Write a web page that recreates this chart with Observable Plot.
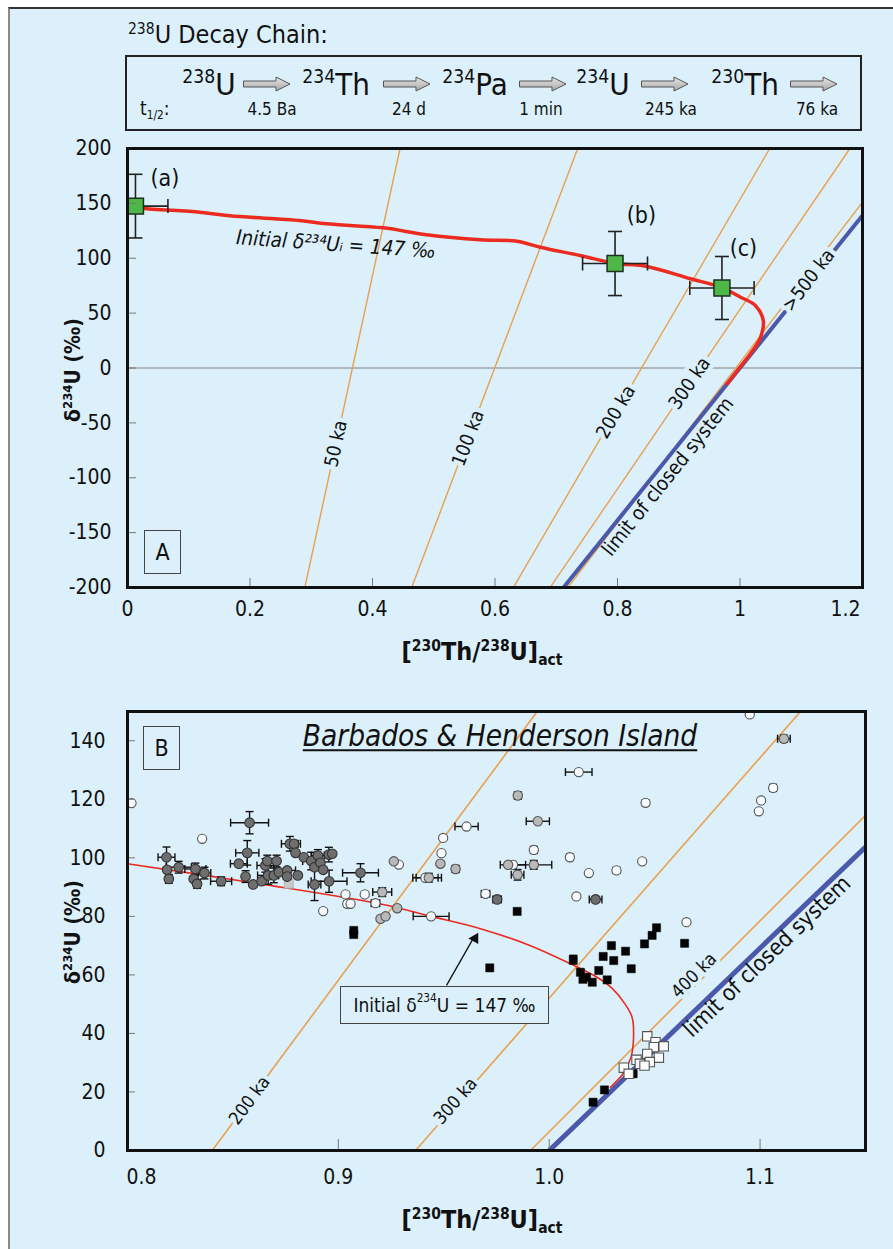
<!DOCTYPE html>
<html><head><meta charset="utf-8">
<script src="https://cdn.jsdelivr.net/npm/d3@7"></script>
<script src="https://cdn.jsdelivr.net/npm/@observablehq/plot@0.6"></script>
<style>
html,body{margin:0;padding:0;background:#fff;}
#root{position:relative;width:893px;height:1249px;overflow:hidden;background:#fff;font-family:"DejaVu Sans Condensed","DejaVu Sans","Liberation Sans",sans-serif;font-stretch:condensed;color:#111;}
#panel{position:absolute;left:8px;top:7px;width:900px;height:1260px;background:#dbf0fa;border-top:2px solid #333;border-left:2px solid #8a8a8a;}
.abs{position:absolute;white-space:nowrap;line-height:1;}
.sup{font-size:0.62em;position:relative;top:-0.6em;}
.sub{font-size:0.62em;position:relative;top:0.32em;}
.box{position:absolute;border:1.5px solid #444;box-sizing:border-box;background:#dbf0fa;display:flex;align-items:center;justify-content:center;}
svg{position:absolute;left:0;}
</style></head><body><div id="root"><div id="panel"></div></div>
<script>
// ---------------- DATA ----------------
// Decay chain
const chainMass = ["238", "234", "234", "234", "230"];
const chainElem = ["U", "Th", "Pa", "U", "Th"];
const chainHalfLife = ["4.5 Ba", "24 d", "1 min", "245 ka", "76 ka"];

// Panel A
const xTicksA = [0, 0.2, 0.4, 0.6, 0.8, 1, 1.2];
const yTicksA = [-200, -150, -100, -50, 0, 50, 100, 150, 200];
const curveAX = [0.013, 0.025, 0.118, 0.167, 0.281, 0.325, 0.4175, 0.488, 0.576, 0.636, 0.674, 0.739, 0.794, 0.848, 0.919, 0.968, 1.001, 1.025, 1.038, 1.0335, 1.017, 1.0, 0.979];
const curveAY = [147, 145.6, 142, 138.7, 134.4, 131.4, 127.7, 121.4, 116.8, 115.5, 110, 102.5, 95.5, 92.5, 81.3, 73.6, 64.5, 57, 43.3, 28, 13, 0.7, -14.4];
const sampleName = ["(a)", "(b)", "(c)"];
const sampleX = [0.013, 0.796, 0.9705];
const sampleY = [147.5, 95.2, 72.9];
const sampleXerr = [0.053, 0.053, 0.0525];
const sampleYerr = [29, 29.2, 28.7];
const sampleLabelX = [0.061, 0.839, 1.0056];
const sampleLabelY = [172.6, 139, 108.6];
const isoAAge = ["50 ka", "100 ka", "200 ka", "300 ka", ">500 ka"];
const isoAX1 = [0.2895, 0.464, 0.630, 0.690, 0.719];
const isoAY1 = [-200, -200, -200, -200, -200];
const isoAX2 = [0.445, 0.735, 1.0486, 1.1795, 1.2];
const isoAY2 = [200, 200, 200, 200, 151];
const isoALabelX = [0.3404, 0.5561, 0.7974, 0.9176, 1.112];
const isoALabelY = [-69, -64, -40, -14, 80];
const limitAX = [0.712, 1.2];
const limitAY = [-200, 139];

// Panel B
const xTicksB = [0.8, 0.9, 1.0, 1.1];
const yTicksB = [0, 20, 40, 60, 80, 100, 120, 140];
const curveBX = [0.8, 0.863, 0.92, 0.944, 0.9674, 0.9911, 1.0101, 1.0227, 1.030, 1.036, 1.0393, 1.0400, 1.0388, 1.035, 1.029];
const curveBY = [98.0, 91.1, 84.2, 80.0, 75.8, 70, 63.8, 59.2, 55.3, 50.0, 45.5, 38.7, 31.9, 26.2, 21.6];
const isoBAge = ["200 ka", "300 ka", "400 ka"];
const isoBX1 = [0.8402, 0.9366, 0.9911];
const isoBY1 = [0, 0, 0];
const isoBX2 = [0.9943, 1.1192, 1.15];
const isoBY2 = [150, 150, 114.5];
const isoBLabelX = [0.8579, 0.9556, 1.0686];
const isoBLabelY = [17.1, 16.9, 59.8];
const limitBX = [1.0, 1.15];
const limitBY = [0, 103.7];
const noteArrowFrom = [0.9513, 56.4];
const noteArrowTo = [0.9648, 73.5];

// [x, y, xerr, yerr]
const darkGray = [
  [0.8185,100.2,0.004,3.5],[0.8188,95.9,0,0],[0.8196,92.8,0,1.5],[0.8243,96.8,0.006,2],
  [0.8322,96.2,0.005,2],[0.8314,92.8,0,0],[0.8330,91.1,0,1.5],[0.8365,94.8,0.003,2],
  [0.8444,92.0,0.005,1.5],[0.8528,98.0,0.004,0],[0.8560,93.6,0,2],[0.8579,112.0,0.009,3.8],
  [0.8568,101.7,0.0055,4.2],[0.8596,90.9,0,0],[0.8636,92.0,0,0],[0.8654,97.4,0.004,2.3],
  [0.8667,94.0,0.005,3],[0.8663,98.9,0,2],[0.8707,98.9,0,2],[0.8694,94.0,0,2.5],
  [0.8718,95.1,0,0],[0.8757,95.7,0.004,0],[0.8757,93.6,0,0],[0.8770,104.8,0.004,2.5],
  [0.8790,104.8,0.003,0],[0.8797,101.7,0,0],[0.8808,94.0,0,0],[0.8836,100.2,0,0],
  [0.8871,98.9,0.004,3],[0.8887,96.8,0,0],[0.8903,100.8,0.003,2],[0.8915,98.3,0,0],
  [0.8928,95.9,0,0],[0.8955,101.1,0,2.5],[0.8971,101.4,0,0],[0.8887,90.9,0.003,5.5],
  [0.8956,92.0,0.0085,3.8],[0.9105,94.9,0.0085,3.1],[0.9753,85.8,0.002,1],[1.0220,85.8,0.003,0]
];
const lightGray = [
  [0.9279,82.8,0,0],[0.9200,79.2,0,0],[0.9224,80.0,0,0],[0.9208,88.3,0.0045,1.5],
  [0.9429,93.2,0.006,1.5],[0.9484,98.0,0,0],[0.9263,98.8,0,0],[0.9556,96.2,0.0015,1.2],
  [0.9805,97.6,0,0],[0.9927,97.6,0.0085,1.5],[0.9850,94.2,0.003,1.8],[0.9946,112.5,0.0055,0],
  [0.9851,121.3,0.0015,1.2],[1.1113,140.7,0.003,1.2]
];
const whiteCircle = [
  [0.8019,118.7,0,0],[0.8354,106.5,0,0],[0.8928,81.8,0,0],[0.9034,87.5,0,0],
  [0.9042,84.3,0,1],[0.9058,84.3,0,0],[0.9125,87.5,0,0],[0.9176,84.5,0.002,0],
  [0.9287,97.7,0,0],[0.9413,93.2,0.006,0],[0.9440,80.0,0.0085,0],[0.9489,101.6,0,0],
  [0.9497,106.8,0,0],[0.9608,110.7,0.0055,0],[0.9698,87.7,0.002,0],[0.9828,97.6,0.006,0],
  [0.9927,102.7,0,1.2],[1.0098,100.2,0,1],[1.0140,129.3,0.0063,0],[1.0188,94.8,0,0],
  [1.0319,95.7,0,1],[1.0441,98.8,0,0],[1.0457,118.8,0,1],[1.0129,86.8,0,0],
  [1.0651,78.0,0,0],[1.0951,149,0,0],[1.1005,119.6,0,0],[1.0994,115.9,0,0],[1.1062,123.9,0,1.2]
];
const blackSquare = [
  [0.9073,73.8,0,0],[0.9073,75.2,0,0],[0.9848,81.7,0,0],[0.9718,62.4,0,0],[1.0114,65.2,0,1.5],
  [1.0148,60.9,0,0],[1.0177,59.2,0,0],[1.0204,57.5,0,0],[1.0235,61.5,0,0],[1.0275,58.3,0,0],
  [1.0256,66.3,0,0],[1.0306,64.9,0,0],[1.0295,70.0,0,0],[1.0362,68.1,0,0],[1.0389,62.1,0,0],
  [1.0452,70.6,0,0],[1.0488,73.5,0,0],[1.0509,76.1,0,0],[1.0642,70.8,0,0],[1.0160,58.5,0,0],
  [1.0208,16.5,0,0],[1.0262,20.7,0,0],[1.0398,26.2,0,0]
];
const whiteSquare = [
  [1.0465,39.0,0,0],[1.0504,37.0,0,0],[1.0543,35.6,0,0],[1.0496,35.3,0,0],[1.0465,33.0,0,0],
  [1.0520,31.7,0,0],[1.0477,30.2,0,0],[1.0414,31.0,0,0],[1.0430,29.6,0,0],[1.0354,28.3,0,0],
  [1.0377,26.2,0,0],[1.0452,29.0,0,0]
];
const lightSquare = [[0.8765,91.1,0,0]];

// ---------------- STYLE ----------------
const BG = "#dbf0fa", ORANGE = "#e9a04f", BLUE = "#4b59aa", RED = "#ec2b20";
const FONT = '"DejaVu Sans Condensed","DejaVu Sans","Liberation Sans",sans-serif';
const root = document.getElementById("root");

function addHTML(html, css) {
  const d = document.createElement("div");
  d.className = "abs";
  d.innerHTML = html;
  Object.assign(d.style, css);
  root.appendChild(d);
  return d;
}

// ---------------- HEADER (decay chain) ----------------
addHTML('<span class="sup">238</span>U Decay Chain:', {left: "128px", top: "22px", fontSize: "25px"});
const chainBox = document.createElement("div");
Object.assign(chainBox.style, {position: "absolute", left: "125px", top: "55px", width: "737px", height: "76px", border: "2px solid #222", boxSizing: "border-box"});
root.appendChild(chainBox);
const nucCenter = [209, 336, 475, 603, 745];
const arrowLeft = [243, 383, 519, 641, 790];
const hlCenter = [272, 409, 541, 671, 817];
chainElem.forEach((el, i) => {
  addHTML(`<span class="sup">${chainMass[i]}</span>${el}`, {left: nucCenter[i] + "px", top: "69px", fontSize: "31px", transform: "translateX(-50%)"});
  const a = document.createElementNS("http://www.w3.org/2000/svg", "svg");
  a.setAttribute("width", 48); a.setAttribute("height", 16);
  a.style.left = arrowLeft[i] + "px"; a.style.top = "76px";
  a.innerHTML = '<defs><linearGradient id="g' + i + '" x1="0" y1="0" x2="0" y2="1"><stop offset="0" stop-color="#e6e6e6"/><stop offset="1" stop-color="#a8a8a8"/></linearGradient></defs>' +
    '<path d="M0.5,5 H33 V1 L47,8 L33,15 V11 H0.5 Z" fill="url(#g' + i + ')" stroke="#555" stroke-width="1"/>';
  root.appendChild(a);
  addHTML(chainHalfLife[i], {left: hlCenter[i] + "px", top: "101px", fontSize: "17px", transform: "translateX(-50%)"});
});
addHTML('t<span class="sub">1/2</span>:', {left: "140px", top: "99px", fontSize: "19px"});

// ---------------- helpers ----------------
function errorSegments(rows, capX, capY) {
  const segs = [];
  for (const [x, y, ex, ey] of rows) {
    if (ex > 0) {
      segs.push({x1: x - ex, x2: x + ex, y1: y, y2: y});
      segs.push({x1: x - ex, x2: x - ex, y1: y - capY, y2: y + capY});
      segs.push({x1: x + ex, x2: x + ex, y1: y - capY, y2: y + capY});
    }
    if (ey > 0) {
      segs.push({x1: x, x2: x, y1: y - ey, y2: y + ey});
      segs.push({x1: x - capX, x2: x + capX, y1: y - ey, y2: y - ey});
      segs.push({x1: x - capX, x2: x + capX, y1: y + ey, y2: y + ey});
    }
  }
  return segs;
}
const deg = (dx, dy, kx, ky) => -Math.atan((dy * ky) / (dx * kx)) * 180 / Math.PI;

// ---------------- PANEL A ----------------
const A = {width: 893, height: 540, ml: 127, mr: 31, mt: 13, mb: 88, x: [0, 1.2], y: [-200, 200]};
const kxA = (A.width - A.ml - A.mr) / (A.x[1] - A.x[0]);
const kyA = (A.height - A.mt - A.mb) / (A.y[1] - A.y[0]);
const isoA = isoAAge.map((age, i) => ({age, x1: isoAX1[i], y1: isoAY1[i], x2: isoAX2[i], y2: isoAY2[i], lx: isoALabelX[i], ly: isoALabelY[i]}));
isoA.forEach(d => d.rot = deg(d.x2 - d.x1, d.y2 - d.y1, kxA, kyA));
const limitA = [{x1: limitAX[0], y1: limitAY[0], x2: limitAX[1], y2: limitAY[1]}];
const limitARot = deg(limitAX[1] - limitAX[0], limitAY[1] - limitAY[0], kxA, kyA);
const curveA = curveAX.map((x, i) => ({x, y: curveAY[i]}));
const samplesA = sampleName.map((n, i) => [sampleX[i], sampleY[i], sampleXerr[i], sampleYerr[i]]);
const textStyle = {fill: "#111", fontFamily: FONT};
const lastA = xTicksA[xTicksA.length - 1];

const plotA = Plot.plot({
  width: A.width, height: A.height,
  marginLeft: A.ml, marginRight: A.mr, marginTop: A.mt, marginBottom: A.mb,
  x: {domain: A.x}, y: {domain: A.y},
  style: {background: "transparent", fontFamily: FONT, fontSize: "21px", color: "#111", fontStretch: "condensed"},
  marks: [
    Plot.ruleY([0], {stroke: "#808080", strokeWidth: 1}),
    Plot.link(isoA, {x1: "x1", y1: "y1", x2: "x2", y2: "y2", stroke: ORANGE, strokeWidth: 1.4, clip: true}),
    Plot.link(limitA, {x1: "x1", y1: "y1", x2: "x2", y2: "y2", stroke: BLUE, strokeWidth: 4, clip: true}),
    Plot.line(curveA, {x: "x", y: "y", stroke: RED, strokeWidth: 3.5, curve: "catmull-rom", clip: true}),
    Plot.link(errorSegments(samplesA, 7 / kxA, 7 / kyA), {x1: "x1", y1: "y1", x2: "x2", y2: "y2", stroke: "#222", strokeWidth: 1.6, clip: true}),
    Plot.dot(samplesA, {x: d => d[0], y: d => d[1], symbol: "square", r: 9, fill: "#4cb848", stroke: "#1f2f1f", strokeWidth: 1.5}),
    Plot.text(sampleName, {x: (d, i) => sampleLabelX[i], y: (d, i) => sampleLabelY[i], text: d => d, fontSize: 23, ...textStyle}),
    Plot.text(isoA, {x: "lx", y: "ly", text: "age", rotate: "rot", fontSize: 19, stroke: BG, strokeWidth: 9, paintOrder: "stroke", ...textStyle}),
    Plot.text(["limit of closed system"], {x: [0.8822], y: [-98.9], text: d => d, rotate: limitARot, fontSize: 20, ...textStyle}),
    Plot.text(["Initial δ²³⁴Uᵢ = 147 ‰"], {x: [0.3404], y: [112.5], text: d => d, rotate: 4, fontSize: 20.5, fontStyle: "italic", ...textStyle}),
    Plot.ruleY(yTicksA, {x1: 0, x2: 9 / kxA, stroke: "#777", strokeWidth: 1}),
    Plot.ruleX(xTicksA.slice(1), {y1: -200, y2: -200 + 9 / kyA, stroke: "#777", strokeWidth: 1}),
    Plot.axisY({ticks: yTicksA, tickSize: 0, tickPadding: 16, tickFormat: d => String(d)}),
    Plot.axisX({ticks: xTicksA.slice(0, -1), tickSize: 0, tickPadding: 14, tickFormat: d => String(d)}),
    Plot.axisX({ticks: [lastA], tickSize: 0, tickPadding: 14, dx: -17, tickFormat: d => String(d)}),
    Plot.frame({stroke: "#111", strokeWidth: 3})
  ]
});
plotA.style.top = "135px";
root.appendChild(plotA);

// ---------------- PANEL B ----------------
const B = {width: 893, height: 560, ml: 127, mr: 28, mt: 21, mb: 100, x: [0.8, 1.15], y: [0, 150]};
const kxB = (B.width - B.ml - B.mr) / (B.x[1] - B.x[0]);
const kyB = (B.height - B.mt - B.mb) / (B.y[1] - B.y[0]);
const isoB = isoBAge.map((age, i) => ({age, x1: isoBX1[i], y1: isoBY1[i], x2: isoBX2[i], y2: isoBY2[i], lx: isoBLabelX[i], ly: isoBLabelY[i]}));
isoB.forEach(d => d.rot = deg(d.x2 - d.x1, d.y2 - d.y1, kxB, kyB));
const limitB = [{x1: limitBX[0], y1: limitBY[0], x2: limitBX[1], y2: limitBY[1]}];
const limitBRot = deg(limitBX[1] - limitBX[0], limitBY[1] - limitBY[0], kxB, kyB);
const curveB = curveBX.map((x, i) => ({x, y: curveBY[i]}));
const allB = [...darkGray, ...lightGray, ...whiteCircle, ...blackSquare, ...whiteSquare, ...lightSquare];
const arrowRot = Math.atan2((noteArrowTo[0] - noteArrowFrom[0]) * kxB, (noteArrowTo[1] - noteArrowFrom[1]) * kyB) * 180 / Math.PI;
const px = d => d[0], py = d => d[1];

const plotB = Plot.plot({
  width: B.width, height: B.height,
  marginLeft: B.ml, marginRight: B.mr, marginTop: B.mt, marginBottom: B.mb,
  x: {domain: B.x}, y: {domain: B.y},
  style: {background: "transparent", fontFamily: FONT, fontSize: "21px", color: "#111", fontStretch: "condensed"},
  marks: [
    Plot.link(isoB, {x1: "x1", y1: "y1", x2: "x2", y2: "y2", stroke: ORANGE, strokeWidth: 1.6, clip: true}),
    Plot.link(limitB, {x1: "x1", y1: "y1", x2: "x2", y2: "y2", stroke: BLUE, strokeWidth: 5, clip: true}),
    Plot.line(curveB, {x: "x", y: "y", stroke: RED, strokeWidth: 1.6, curve: "catmull-rom", clip: true}),
    Plot.link([{x1: noteArrowFrom[0], y1: noteArrowFrom[1], x2: noteArrowTo[0], y2: noteArrowTo[1]}], {x1: "x1", y1: "y1", x2: "x2", y2: "y2", stroke: "#111", strokeWidth: 1.3}),
    Plot.dot([noteArrowTo], {x: px, y: py, symbol: "triangle", r: 4.2, fill: "#111", rotate: arrowRot, dy: 3}),
    Plot.link(errorSegments(allB, 4 / kxB, 4 / kyB), {x1: "x1", y1: "y1", x2: "x2", y2: "y2", stroke: "#111", strokeWidth: 1.4, clip: true}),
    Plot.dot(whiteCircle, {x: px, y: py, r: 4.6, fill: "#f7fbfd", stroke: "#555", strokeWidth: 1.1, clip: true}),
    Plot.dot(lightGray, {x: px, y: py, r: 4.7, fill: "#b9b9b9", stroke: "#555", strokeWidth: 1.1, clip: true}),
    Plot.dot(lightSquare, {x: px, y: py, symbol: "square", r: 5, fill: "#c9c9c9", stroke: "#aaa", strokeWidth: 0.8}),
    Plot.dot(darkGray, {x: px, y: py, r: 4.8, fill: "#6e6e6e", stroke: "#333", strokeWidth: 1.1, clip: true}),
    Plot.dot(blackSquare, {x: px, y: py, symbol: "square", r: 4.6, fill: "#050505", stroke: "#050505", strokeWidth: 0.5}),
    Plot.dot(whiteSquare, {x: px, y: py, symbol: "square", r: 5.3, fill: "#fafcfd", stroke: "#555", strokeWidth: 1.1}),
    Plot.text(isoB, {x: "lx", y: "ly", text: "age", rotate: "rot", fontSize: 18, stroke: BG, strokeWidth: 8, paintOrder: "stroke", ...textStyle}),
    Plot.text(["limit of closed system"], {x: [1.1033], y: [66.3], text: d => d, rotate: limitBRot, fontSize: 22.5, ...textStyle}),
    Plot.ruleY(yTicksB, {x1: 0.8, x2: 0.8 + 8 / kxB, stroke: "#777", strokeWidth: 1}),
    Plot.ruleX(xTicksB.slice(1), {y1: 0, y2: 11 / kyB, stroke: "#777", strokeWidth: 1}),
    Plot.axisY({ticks: yTicksB, tickSize: 0, tickPadding: 22, tickFormat: d => String(d)}),
    Plot.axisX({ticks: xTicksB.slice(0, 1), tickSize: 0, tickPadding: 19, dx: 14, tickFormat: d3.format(".1f")}),
    Plot.axisX({ticks: xTicksB.slice(1), tickSize: 0, tickPadding: 19, tickFormat: d3.format(".1f")}),
    Plot.frame({stroke: "#111", strokeWidth: 3})
  ]
});
plotB.style.top = "690px";
root.appendChild(plotB);

// ---------------- OVERLAY TEXT ----------------
function boxed(html, left, top, w, h, fs) {
  const d = document.createElement("div");
  d.className = "box";
  Object.assign(d.style, {left: left + "px", top: top + "px", width: w + "px", height: h + "px", fontSize: fs + "px"});
  d.innerHTML = html;
  root.appendChild(d);
}
boxed("A", 144, 530, 37, 44, 23);
boxed("B", 143, 726, 37, 44, 23);
boxed('Initial δ<span class="sup">234</span>U = 147 ‰', 340, 986, 209, 38, 19);

const yTitle = 'δ<span class="sup">234</span>U (‰)';
const xTitle = '[<span class="sup">230</span>Th/<span class="sup">238</span>U]<span class="sub">act</span>';
addHTML(yTitle, {left: "73px", top: "370px", fontSize: "21px", fontWeight: "bold", transform: "translate(-50%,-50%) rotate(-90deg)"});
addHTML(yTitle, {left: "73px", top: "932px", fontSize: "21px", fontWeight: "bold", transform: "translate(-50%,-50%) rotate(-90deg)"});
addHTML(xTitle, {left: "482px", top: "651px", fontSize: "25px", fontWeight: "bold", transform: "translate(-50%,-50%)"});
addHTML(xTitle, {left: "482px", top: "1219px", fontSize: "25px", fontWeight: "bold", transform: "translate(-50%,-50%)"});
addHTML("Barbados &amp; Henderson Island", {left: "500px", top: "737px", fontSize: "29.5px", fontStyle: "italic", textDecoration: "underline", textUnderlineOffset: "3px", textDecorationThickness: "1.5px", transform: "translate(-50%,-50%)"});
</script></body></html>
